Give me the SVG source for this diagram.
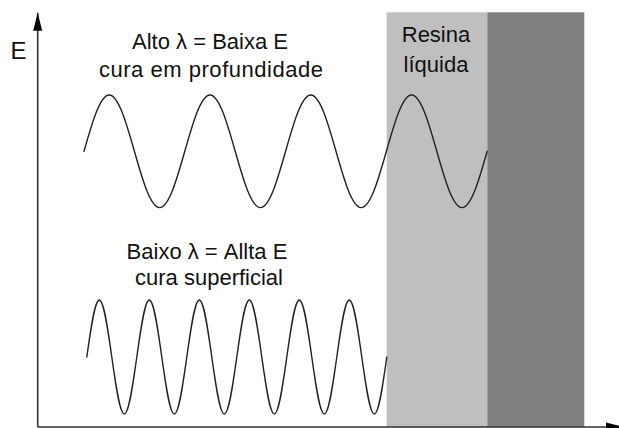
<svg xmlns="http://www.w3.org/2000/svg" width="619" height="428" viewBox="0 0 619 428">
  <style>
    .lbl { font-family: "Liberation Sans", Arial, sans-serif; font-size: 22px; fill: #111; text-anchor: middle; }
    .big { font-size: 24px; }
    .wave { fill: none; stroke: #222; stroke-width: 1.4; stroke-linecap: round; }
    .axis { stroke: #333; stroke-width: 1.6; fill: none; }
  </style>
  <defs>
    <marker id="arrow" markerUnits="userSpaceOnUse" markerWidth="18" markerHeight="10" refX="18" refY="5" orient="auto">
      <path d="M0,0.5 L18,5 L0,9.5 z" fill="#000"/>
    </marker>
  </defs>
  <rect width="619" height="428" fill="#fff"/>

  <g id="resina-liquida">
    <rect x="386.7" y="12.3" width="100.6" height="415" fill="#bfbfbf"/>
    <text class="lbl" x="436" y="42">Resina</text>
    <text class="lbl" x="436" y="72">líquida</text>
  </g>
  <g id="resina-curada">
    <rect x="487.3" y="12.3" width="97" height="415" fill="#7f7f7f"/>
  </g>

  <g id="connectors">
    <line class="axis" x1="37.7" y1="427" x2="37.7" y2="12.7" marker-end="url(#arrow)"/>
    <line class="axis" x1="37.7" y1="427" x2="624" y2="427" marker-end="url(#arrow)"/>
  </g>

  <g id="eixo-E">
    <text class="lbl big" x="18.5" y="59">E</text>
  </g>

  <g id="onda-longa">
    <path class="wave" d="M84,151.3 c8.22,-28.84 16.08,-56.3 25.2,-56.3 s16.98,27.46 25.2,56.3 s16.08,56.3 25.2,56.3 s16.98,-27.46 25.2,-56.3
      s16.08,-56.3 25.2,-56.3 s16.98,27.46 25.2,56.3 s16.08,56.3 25.2,56.3 s16.98,-27.46 25.2,-56.3
      s16.08,-56.3 25.2,-56.3 s16.98,27.46 25.2,56.3 s16.08,56.3 25.2,56.3 s16.98,-27.46 25.2,-56.3
      s16.08,-56.3 25.2,-56.3 s16.98,27.46 25.2,56.3 s16.08,56.3 25.2,56.3 s16.98,-27.46 25.2,-56.3"/>
  </g>
  <g id="label-alto">
    <text class="lbl" x="210" y="49">Alto λ = Baixa E</text>
    <text class="lbl" x="211" y="77" textLength="224">cura em profundidade</text>
  </g>

  <g id="onda-curta">
    <path class="wave" d="M86.8,357 c4.08,-29.2 7.98,-57 12.5,-57 s8.42,27.8 12.5,57 s7.98,57 12.5,57 s8.42,-27.8 12.5,-57
      s7.980,-57 12.5,-57 s8.42,27.8 12.5,57 s7.98,57 12.5,57 s8.42,-27.8 12.5,-57
      s7.98,-57 12.5,-57 s8.42,27.8 12.5,57 s7.98,57 12.5,57 s8.42,-27.8 12.5,-57
      s7.98,-57 12.5,-57 s8.42,27.8 12.5,57 s7.98,57 12.5,57 s8.42,-27.8 12.5,-57
      s7.98,-57 12.5,-57 s8.42,27.8 12.5,57 s7.98,57 12.5,57 s8.42,-27.8 12.5,-57
      s7.98,-57 12.5,-57 s8.42,27.8 12.5,57 s7.98,57 12.5,57 s8.42,-27.8 12.5,-57"/>
  </g>
  <g id="label-baixo">
    <text class="lbl" x="207" y="259">Baixo λ = Allta E</text>
    <text class="lbl" x="209" y="285">cura superficial</text>
  </g>
</svg>
